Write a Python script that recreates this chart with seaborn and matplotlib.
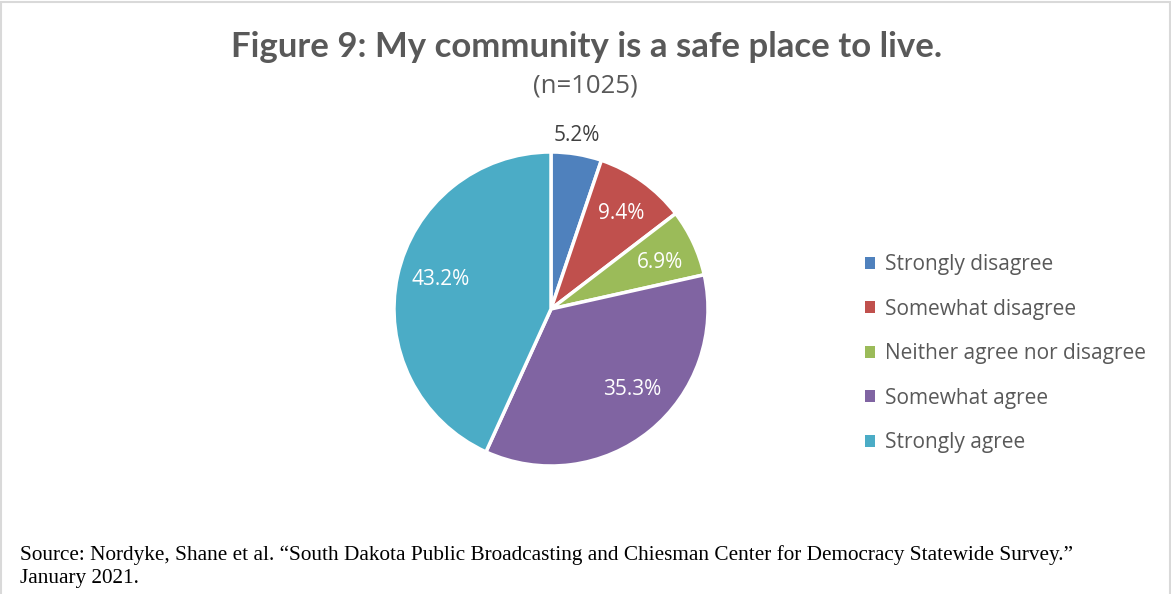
import numpy as np
import matplotlib
matplotlib.use("Agg")
import matplotlib.pyplot as plt
import seaborn as sns
from matplotlib.patches import Rectangle, Patch

sns.set_theme(style="white")
plt.rcParams["font.family"] = ["Lato", "DejaVu Sans"]

categories = ["Strongly disagree", "Somewhat disagree", "Neither agree nor disagree",
              "Somewhat agree", "Strongly agree"]
shares = [5.2, 9.4, 6.9, 35.3, 43.2]
colors = ["#4F81BD", "#C0504D", "#9BBB59", "#8064A2", "#4BACC6"]

title = "Figure 9: My community is a safe place to live."
subtitle = "(n=1025)"
source_lines = ["Source: Nordyke, Shane et al. \u201cSouth Dakota Public Broadcasting and Chiesman "
                "Center for Democracy Statewide Survey.\u201d",
                "January 2021."]

W, H = 1171, 594
fig = plt.figure(figsize=(W / 100, H / 100), dpi=100)
fig.patch.set_facecolor("white")

# chart frame
fig.add_artist(Rectangle((0.5 / W, -0.1), (W - 2) / W, 1.1 - 1.5 / H, transform=fig.transFigure,
                         fill=False, edgecolor="#D9D9D9", linewidth=1.5))

cx, cy, r = 551, 309, 157
ax = fig.add_axes([(cx - r) / W, (H - cy - r) / H, 2 * r / W, 2 * r / H])
wedges, _ = ax.pie(shares, colors=colors, startangle=90, counterclock=False,
                   wedgeprops=dict(edgecolor="white", linewidth=2.5))
ax.set_xlim(-1, 1)
ax.set_ylim(-1, 1)
ax.set_aspect("equal")
ax.axis("off")

# percentage labels: radial distance and angular nudge (degrees) per slice
dist = [1.13, 0.765, 0.76, 0.72, 0.735]
nudge = [1.0, 0.0, -1.0, 7.0, -4.0]
for w, v, d, n in zip(wedges, shares, dist, nudge):
    ang = np.deg2rad((w.theta1 + w.theta2) / 2 + n)
    col = "#404040" if d > 1 else "white"
    ax.text(d * np.cos(ang), d * np.sin(ang), f"{v:.1f}%", ha="center", va="center_baseline",
            fontsize=15, color=col, family=["Open Sans", "DejaVu Sans"])

fig.text(587 / W, 1 - 47 / H, title, ha="center", va="center", fontsize=25,
         fontweight="bold", color="#595959")
fig.text(585 / W, 1 - 86 / H, subtitle, ha="center", va="center", fontsize=18.5,
         color="#595959", family=["Open Sans", "DejaVu Sans"])

handles = [Patch(facecolor=c, edgecolor="none") for c in colors]
leg = fig.legend(handles, categories, loc="upper left", bbox_to_anchor=(865 / W, 1 - 254 / H),
                 frameon=False, handlelength=0.5, handleheight=0.5,
                 handletextpad=0.45, labelspacing=1.13, borderpad=0, borderaxespad=0,
                 prop={"family": ["Open Sans", "DejaVu Sans"], "size": 15})
for t in leg.get_texts():
    t.set_color("#595959")

for i, line in enumerate(source_lines):
    fig.text(20 / W, 1 - (560 + 23 * i) / H, line, ha="left", va="baseline", fontsize=15.3,
             color="black", family=["Liberation Serif", "DejaVu Serif"])

fig.savefig("out.png", dpi=100, facecolor="white")
